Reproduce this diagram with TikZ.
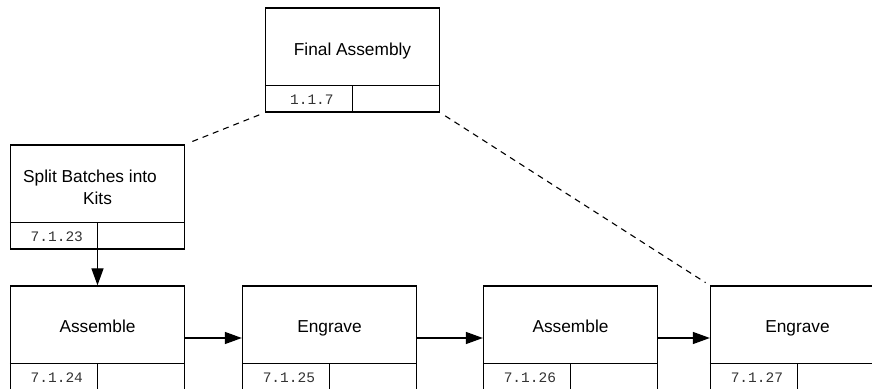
\documentclass[tikz,border=0pt]{standalone}
\usepackage{fontspec}
\setmainfont{Liberation Sans}
\newfontfamily\codefont{Liberation Mono}
\usetikzlibrary{arrows.meta,calc}
\tikzset{
  taskbox/.style={draw, line width=1.3pt, minimum width=174pt, minimum height=104pt, inner sep=0pt, fill=white},
  tasktext/.style={font=\fontsize{17.3}{22}\selectfont, align=center, inner sep=0pt, anchor=base},
  codetext/.style={font=\codefont\fontsize{14.5}{16}\selectfont, inner sep=0pt, text=black!80, anchor=base},
  divline/.style={line width=1.3pt},
  flow/.style={line width=1.3pt, -{Triangle[length=17pt,width=12pt]}},
  link/.style={line width=1.1pt, dash pattern=on 6pt off 5pt, shorten <=6pt, shorten >=5pt},
}
\newcommand{\taskpart}[6]{%
  \node[taskbox] (#1) at (#2,#3) {};
  \draw[divline] ($(#1.south west)+(0,27pt)$) -- ($(#1.south east)+(0,27pt)$);
  \draw[divline] (#1.south) -- ++(0,27pt);
  \node[tasktext] at ($(#1.north)+(0,-#6)$) {#4};
  \node[codetext] at ($(#1.south west)+(47pt,8pt)$) {#5};
}
\begin{document}
\begin{tikzpicture}[x=1pt,y=1pt]
\useasboundingbox (0,0) rectangle (872,388);
\begin{scope}
\clip (0,0) rectangle (872,388);
\taskpart{fa}{352.5}{328}{Final Assembly}{1.1.7}{48pt}
\taskpart{sp}{97.5}{191}{Split Batches into\hspace*{15pt}\\Kits}{7.1.23}{60pt}
\taskpart{aa}{97.5}{50}{Assemble}{7.1.24}{47pt}
\taskpart{ea}{329.5}{50}{Engrave}{7.1.25}{47pt}
\taskpart{ab}{570.5}{50}{Assemble}{7.1.26}{47pt}
\taskpart{eb}{797.5}{50}{Engrave}{7.1.27}{47pt}
\draw[flow] (sp.south) -- (aa.north);
\draw[flow] (aa.east) -- (ea.west);
\draw[flow] (ea.east) -- (ab.west);
\draw[flow] (ab.east) -- (eb.west);
\draw[link] (fa.south west) -- (sp.north east);
\draw[link] (fa.south east) -- (eb.north west);
\end{scope}
\end{tikzpicture}
\end{document}
